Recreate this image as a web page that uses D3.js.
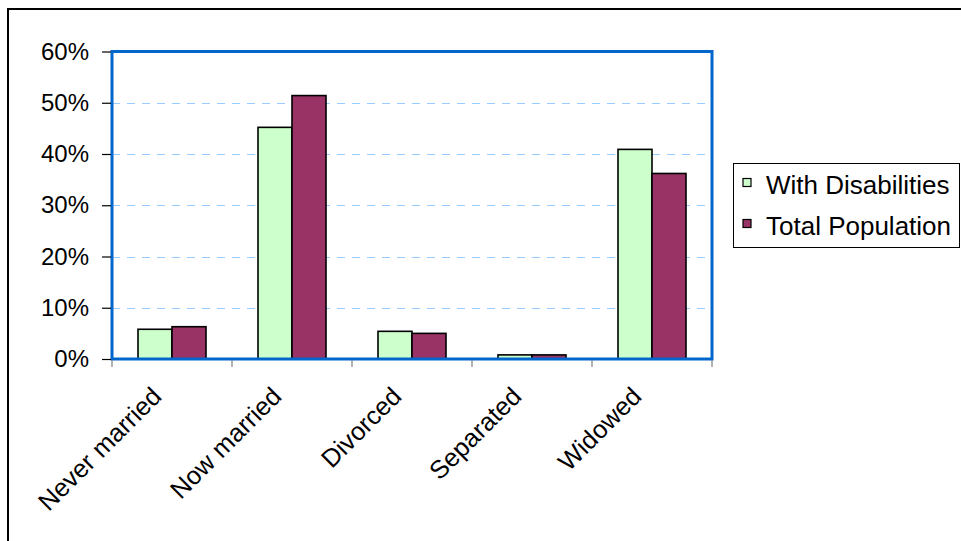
<!DOCTYPE html>
<html>
<head>
<meta charset="utf-8">
<script src="https://cdn.jsdelivr.net/npm/d3@7"></script>
<style>
  html, body { margin: 0; padding: 0; background: #fff; }
  svg { display: block; font-family: Arial, "Liberation Sans", sans-serif; }
</style>
</head>
<body>
<svg id="chart" width="961" height="541"></svg>
<script>
const categories = ["Never married", "Now married", "Divorced", "Separated", "Widowed"];
const seriesNames = ["With Disabilities", "Total Population"];
const withDisabilities = [5.8, 45.2, 5.4, 0.8, 40.9];
const totalPopulation = [6.3, 51.4, 5.0, 0.8, 36.2];
const yTicks = [0, 10, 20, 30, 40, 50, 60];
const colors = ["#CCFFCC", "#993366"];

const seriesValues = [withDisabilities, totalPopulation];

const svg = d3.select("#chart");
const plot = { left: 112, right: 712, top: 51.5, bottom: 359 };

// outer chart border (extends past the window on right/bottom)
svg.append("rect")
  .attr("x", 8).attr("y", 9).attr("width", 1000).attr("height", 600)
  .attr("fill", "none").attr("stroke", "#000").attr("stroke-width", 2);

const x = d3.scaleBand().domain(categories).range([plot.left, plot.right])
  .paddingInner(0.4333).paddingOuter(0.4333 / 2);
const xs = d3.scaleBand().domain(seriesNames).range([0, x.bandwidth()]);
const y = d3.scaleLinear().domain([0, 60]).range([plot.bottom, plot.top]);

// gridlines
svg.append("g").selectAll("line").data(yTicks.filter(t => t > 0 && t < 60)).join("line")
  .attr("x1", plot.left).attr("x2", plot.right)
  .attr("y1", d => Math.round(y(d)) + 0.5).attr("y2", d => Math.round(y(d)) + 0.5)
  .attr("stroke", "#99CCFF").attr("stroke-width", 1).attr("stroke-dasharray", "8,7");

// bars
const groups = svg.append("g").selectAll("g").data(seriesNames).join("g")
  .attr("fill", (d, i) => colors[i]);
groups.selectAll("rect").data((s, si) => categories.map((c, ci) => ({ c, s, v: seriesValues[si][ci] }))).join("rect")
  .attr("x", d => x(d.c) + xs(d.s))
  .attr("width", xs.bandwidth())
  .attr("y", d => y(d.v))
  .attr("height", d => y(0) - y(d.v))
  .attr("stroke", "#000").attr("stroke-width", 1.6);

// plot border
svg.append("rect")
  .attr("x", plot.left).attr("y", plot.top)
  .attr("width", plot.right - plot.left).attr("height", plot.bottom - plot.top)
  .attr("fill", "none").attr("stroke", "#0066CC").attr("stroke-width", 3);

// y axis
const yAxis = d3.axisLeft(y).tickValues(yTicks).tickFormat(d => d + "%").tickSize(9).tickPadding(13);
const gy = svg.append("g").attr("transform", `translate(${plot.left - 1},0)`).call(yAxis);
gy.select(".domain").remove();
gy.selectAll(".tick line").attr("stroke", "#000").attr("stroke-width", 1.2);
gy.selectAll(".tick text").attr("font-size", 24).attr("fill", "#000")
  .attr("font-family", "Arial, 'Liberation Sans', sans-serif");

// x axis ticks at category boundaries
const bounds = d3.range(categories.length + 1).map(i => plot.left + i * x.step());
svg.append("g").selectAll("line").data(bounds).join("line")
  .attr("x1", d => d).attr("x2", d => d)
  .attr("y1", plot.bottom + 1).attr("y2", plot.bottom + 8)
  .attr("stroke", "#808080").attr("stroke-width", 1.2);

// x labels
svg.append("g").selectAll("text").data(categories).join("text")
  .attr("transform", d => `translate(${x(d) + x.bandwidth() / 2 - 9},398) rotate(-45)`)
  .attr("text-anchor", "end")
  .attr("font-size", 25.5).attr("fill", "#000")
  .text(d => d);

// legend
const lg = svg.append("g");
lg.append("rect").attr("x", 733.5).attr("y", 163.5).attr("width", 226).attr("height", 84)
  .attr("fill", "#fff").attr("stroke", "#000").attr("stroke-width", 1);
const items = lg.selectAll("g.item").data(seriesNames).join("g").attr("class", "item")
  .attr("transform", (d, i) => `translate(0,${i * 41})`);
items.append("rect").attr("x", 743).attr("y", 178.5).attr("width", 8).attr("height", 8)
  .attr("fill", (d, i) => colors[i]).attr("stroke", "#000").attr("stroke-width", 1.2);
items.append("text").attr("x", 766).attr("y", 193.5).attr("font-size", 26).attr("fill", "#000")
  .text(d => d);
</script>
</body>
</html>
